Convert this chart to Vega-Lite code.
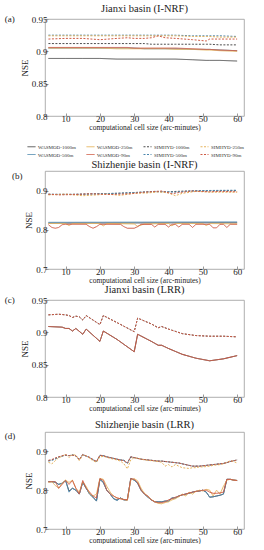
{
  "$schema": "https://vega.github.io/schema/vega-lite/v6.json",
  "padding": {"left": 4, "top": 3, "right": 0, "bottom": 0},
  "spacing": 15,
  "bounds": "flush",
  "datasets": {
    "pa": [
      {"x":5,"w1":0.889,"w2":0.905,"w3":0.905,"w4":0.906,"s1":0.912,"s2":0.925,"s3":0.924,"s4":0.919},
      {"x":10,"w1":0.889,"w2":0.905,"w3":0.905,"w4":0.906,"s1":0.912,"s2":0.925,"s3":0.924,"s4":0.920},
      {"x":15,"w1":0.889,"w2":0.905,"w3":0.905,"w4":0.906,"s1":0.912,"s2":0.925,"s3":0.924,"s4":0.920},
      {"x":20,"w1":0.889,"w2":0.905,"w3":0.905,"w4":0.906,"s1":0.912,"s2":0.925,"s3":0.924,"s4":0.918},
      {"x":25,"w1":0.888,"w2":0.905,"w3":0.904,"w4":0.906,"s1":0.912,"s2":0.925,"s3":0.924,"s4":0.920},
      {"x":28,"w1":0.888,"w2":0.905,"w3":0.904,"w4":0.906,"s1":0.912,"s2":0.925,"s3":0.924,"s4":0.921},
      {"x":30,"w1":0.888,"w2":0.905,"w3":0.904,"w4":0.905,"s1":0.912,"s2":0.925,"s3":0.924,"s4":0.920},
      {"x":33,"w1":0.888,"w2":0.904,"w3":0.904,"w4":0.905,"s1":0.912,"s2":0.925,"s3":0.924,"s4":0.920},
      {"x":35,"w1":0.888,"w2":0.904,"w3":0.904,"w4":0.905,"s1":0.911,"s2":0.925,"s3":0.924,"s4":0.921},
      {"x":37,"w1":0.888,"w2":0.904,"w3":0.904,"w4":0.905,"s1":0.911,"s2":0.925,"s3":0.924,"s4":0.924},
      {"x":39,"w1":0.888,"w2":0.904,"w3":0.904,"w4":0.905,"s1":0.911,"s2":0.925,"s3":0.924,"s4":0.921},
      {"x":42,"w1":0.888,"w2":0.904,"w3":0.903,"w4":0.905,"s1":0.911,"s2":0.925,"s3":0.924,"s4":0.920},
      {"x":47,"w1":0.887,"w2":0.903,"w3":0.903,"w4":0.904,"s1":0.911,"s2":0.924,"s3":0.923,"s4":0.918},
      {"x":51,"w1":0.886,"w2":0.903,"w3":0.902,"w4":0.903,"s1":0.911,"s2":0.924,"s3":0.923,"s4":0.916},
      {"x":52,"w1":0.886,"w2":0.903,"w3":0.902,"w4":0.903,"s1":0.911,"s2":0.924,"s3":0.923,"s4":0.919},
      {"x":55,"w1":0.886,"w2":0.902,"w3":0.901,"w4":0.902,"s1":0.910,"s2":0.924,"s3":0.922,"s4":0.919},
      {"x":60,"w1":0.885,"w2":0.901,"w3":0.900,"w4":0.901,"s1":0.910,"s2":0.923,"s3":0.922,"s4":0.919}
    ],
    "pb": [
      {"x":5,"w1":0.817,"w2":0.819,"w3":0.816,"w4":0.813,"s1":0.890,"s2":0.891,"s3":0.889,"s4":0.891},
      {"x":6,"w4":0.806},
      {"x":7,"w4":0.804},
      {"x":8,"w4":0.806,"s4":0.889},
      {"x":9,"w4":0.813},
      {"x":10,"w3":0.816,"w4":0.814,"s3":0.891},
      {"x":11,"w3":0.811},
      {"x":12,"w3":0.816,"s2":0.890},
      {"x":13,"s4":0.890},
      {"x":15,"s1":0.891,"s3":0.887},
      {"x":16,"w4":0.814},
      {"x":17,"w4":0.808,"s4":0.892},
      {"x":18,"w4":0.804},
      {"x":19,"w4":0.808,"s3":0.889},
      {"x":20,"w3":0.816,"w4":0.814,"s2":0.892},
      {"x":21,"w3":0.810},
      {"x":22,"w3":0.816,"s3":0.891},
      {"x":23,"s4":0.890},
      {"x":25,"s1":0.893},
      {"x":26,"w4":0.814,"s3":0.888},
      {"x":27,"w4":0.808},
      {"x":28,"w4":0.804,"s2":0.894},
      {"x":29,"s4":0.892},
      {"x":30,"w3":0.815,"w4":0.804,"s3":0.893},
      {"x":31,"w3":0.809,"w4":0.808},
      {"x":32,"w4":0.814},
      {"x":33,"w3":0.815,"s4":0.896},
      {"x":34,"s3":0.894},
      {"x":35,"w4":0.814,"s1":0.897},
      {"x":36,"w4":0.807,"s2":0.898},
      {"x":37,"w4":0.814,"s3":0.897},
      {"x":38,"s4":0.899},
      {"x":39,"w4":0.814},
      {"x":40,"w3":0.816,"w4":0.807,"s1":0.897,"s3":0.894},
      {"x":41,"w3":0.810,"w4":0.814,"s4":0.892},
      {"x":42,"w3":0.816,"w4":0.814,"s2":0.896,"s3":0.887},
      {"x":43,"w4":0.807,"s4":0.895},
      {"x":44,"w4":0.814,"s3":0.893},
      {"x":45,"s1":0.899},
      {"x":46,"w4":0.814},
      {"x":47,"w4":0.806,"s4":0.899},
      {"x":48,"w4":0.814,"s2":0.900,"s3":0.898},
      {"x":50,"w3":0.816},
      {"x":51,"w3":0.811},
      {"x":52,"w3":0.816,"w4":0.814,"s3":0.896,"s4":0.897},
      {"x":53,"w4":0.805},
      {"x":54,"w4":0.805},
      {"x":55,"w4":0.814,"s4":0.898},
      {"x":56,"w4":0.814},
      {"x":57,"w4":0.806},
      {"x":58,"w4":0.814},
      {"x":60,"w1":0.818,"w2":0.820,"w3":0.815,"w4":0.814,"s1":0.900,"s2":0.901,"s3":0.896,"s4":0.897}
    ],
    "pc": [
      {"x":5,"w1":0.909,"w4":0.909,"s1":0.927,"s4":0.927},
      {"x":8,"s1":0.928,"s4":0.928},
      {"x":9,"w1":0.908,"w4":0.908},
      {"x":10,"w1":0.906,"w4":0.906,"s1":0.927,"s4":0.927},
      {"x":11,"w1":0.906,"w4":0.906,"s1":0.926,"s4":0.926},
      {"x":12,"w1":0.902,"w4":0.902,"s1":0.923,"s4":0.923},
      {"x":13,"w1":0.906,"w4":0.906,"s1":0.925,"s4":0.925},
      {"x":14,"s1":0.924,"s4":0.924},
      {"x":15,"w1":0.897,"w4":0.897,"s1":0.919,"s4":0.919},
      {"x":16,"w1":0.905,"w4":0.905,"s1":0.926,"s4":0.926},
      {"x":20,"w1":0.886,"w4":0.886,"s1":0.912,"s4":0.912},
      {"x":21,"w1":0.902,"w4":0.902,"s1":0.926,"s4":0.926},
      {"x":25,"w1":0.889,"w4":0.889,"s1":0.915,"s4":0.915},
      {"x":30,"w1":0.870,"w4":0.870,"s1":0.901,"s4":0.901},
      {"x":31,"w1":0.897,"w4":0.897,"s1":0.922,"s4":0.922},
      {"x":35,"w1":0.886,"w4":0.886,"s1":0.913,"s4":0.913},
      {"x":37,"w1":0.880,"w4":0.880,"s1":0.907,"s4":0.907},
      {"x":38,"w1":0.880,"w4":0.880,"s1":0.909,"s4":0.909},
      {"x":40,"w1":0.875,"w4":0.875,"s1":0.905,"s4":0.905},
      {"x":44,"w1":0.866,"w4":0.866,"s1":0.898,"s4":0.898},
      {"x":48,"w1":0.860,"w4":0.860,"s1":0.895,"s4":0.895},
      {"x":52,"w1":0.856,"w4":0.856,"s1":0.894,"s4":0.894},
      {"x":56,"w1":0.859,"w4":0.859,"s1":0.894,"s4":0.894},
      {"x":60,"w1":0.864,"w4":0.864,"s1":0.893,"s4":0.893}
    ],
    "pd": [
      {"x":5,"w1":0.822,"w2":0.822,"w3":0.820,"w4":0.822,"s1":0.876,"s2":0.875,"s3":0.872,"s4":0.877},
      {"x":6,"w1":0.822,"w2":0.822,"w3":0.822,"w4":0.822,"s1":0.878,"s2":0.877,"s3":0.868,"s4":0.879},
      {"x":7,"w1":0.821,"w2":0.820,"w3":0.812,"w4":0.822,"s1":0.882,"s2":0.880,"s3":0.876,"s4":0.883},
      {"x":8,"w1":0.815,"w2":0.815,"w3":0.805,"w4":0.805,"s1":0.886,"s2":0.885,"s3":0.884,"s4":0.886},
      {"x":9,"w1":0.818,"w2":0.818,"w3":0.818,"w4":0.815,"s1":0.888,"s2":0.888,"s3":0.887,"s4":0.889},
      {"x":10,"w1":0.825,"w2":0.825,"w3":0.826,"w4":0.825,"s1":0.890,"s2":0.890,"s3":0.893,"s4":0.891},
      {"x":11,"w1":0.798,"w2":0.795,"w3":0.820,"w4":0.815,"s1":0.889,"s2":0.889,"s3":0.884,"s4":0.889},
      {"x":12,"w1":0.805,"w2":0.805,"w3":0.826,"w4":0.825,"s1":0.891,"s2":0.891,"s3":0.892,"s4":0.890},
      {"x":13,"w1":0.800,"w2":0.800,"w3":0.805,"w4":0.805,"s1":0.888,"s2":0.889,"s3":0.890,"s4":0.889},
      {"x":14,"w1":0.790,"w2":0.790,"w3":0.795,"w4":0.790,"s1":0.878,"s2":0.880,"s3":0.876,"s4":0.879},
      {"x":15,"w1":0.820,"w2":0.820,"w3":0.822,"w4":0.825,"s1":0.892,"s2":0.891,"s3":0.890,"s4":0.892},
      {"x":16,"w1":0.805,"w2":0.805,"w3":0.810,"w4":0.805,"s1":0.888,"s2":0.888,"s3":0.889,"s4":0.888},
      {"x":17,"w1":0.790,"w2":0.790,"w3":0.792,"w4":0.795,"s1":0.884,"s2":0.884,"s3":0.882,"s4":0.885},
      {"x":18,"w1":0.782,"w2":0.782,"w3":0.785,"w4":0.785,"s1":0.878,"s2":0.879,"s3":0.876,"s4":0.879},
      {"x":19,"w1":0.772,"w2":0.772,"w3":0.790,"w4":0.780,"s1":0.873,"s2":0.874,"s3":0.872,"s4":0.874},
      {"x":20,"w1":0.828,"w2":0.828,"w3":0.830,"w4":0.830,"s1":0.890,"s2":0.889,"s3":0.886,"s4":0.890},
      {"x":21,"w1":0.820,"w2":0.820,"w3":0.828,"w4":0.825,"s1":0.889,"s2":0.889,"s3":0.887,"s4":0.889},
      {"x":22,"w1":0.800,"w2":0.800,"w3":0.810,"w4":0.800,"s1":0.886,"s2":0.886,"s3":0.885,"s4":0.886},
      {"x":23,"w1":0.790,"w2":0.790,"w3":0.795,"w4":0.790,"s1":0.884,"s2":0.884,"s3":0.882,"s4":0.884},
      {"x":24,"w1":0.778,"w2":0.778,"w3":0.785,"w4":0.785,"s1":0.882,"s2":0.882,"s3":0.880,"s4":0.882},
      {"x":25,"w1":0.775,"w2":0.773,"w3":0.780,"w4":0.780,"s1":0.880,"s2":0.880,"s3":0.878,"s4":0.880},
      {"x":26,"w1":0.780,"w2":0.780,"w3":0.778,"w4":0.778,"s1":0.878,"s2":0.878,"s3":0.875,"s4":0.878},
      {"x":27,"w1":0.775,"w2":0.775,"w3":0.776,"w4":0.776,"s1":0.877,"s2":0.877,"s3":0.868,"s4":0.876},
      {"x":28,"w1":0.775,"w2":0.775,"w3":0.774,"w4":0.775,"s1":0.870,"s2":0.868,"s3":0.855,"s4":0.870},
      {"x":29,"w1":0.830,"w2":0.830,"w3":0.826,"w4":0.830,"s1":0.886,"s2":0.886,"s3":0.878,"s4":0.886},
      {"x":30,"w1":0.826,"w2":0.826,"w3":0.830,"w4":0.828,"s1":0.884,"s2":0.884,"s3":0.884,"s4":0.884},
      {"x":31,"w1":0.818,"w2":0.818,"w3":0.824,"w4":0.820,"s1":0.882,"s2":0.882,"s3":0.882,"s4":0.882},
      {"x":32,"w1":0.800,"w2":0.800,"w3":0.805,"w4":0.800,"s1":0.880,"s2":0.880,"s3":0.880,"s4":0.880},
      {"x":33,"w1":0.790,"w2":0.790,"w3":0.792,"w4":0.790,"s1":0.879,"s2":0.879,"s3":0.878,"s4":0.879},
      {"x":34,"w1":0.782,"w2":0.782,"w3":0.784,"w4":0.785,"s1":0.878,"s2":0.878,"s3":0.877,"s4":0.878},
      {"x":35,"w1":0.775,"w2":0.775,"w3":0.776,"w4":0.775,"s1":0.877,"s2":0.877,"s3":0.876,"s4":0.877},
      {"x":36,"w1":0.770,"w2":0.770,"w3":0.770,"w4":0.770,"s1":0.876,"s2":0.876,"s3":0.875,"s4":0.876},
      {"x":37,"w1":0.770,"w2":0.770,"w3":0.766,"w4":0.768,"s1":0.875,"s2":0.875,"s3":0.874,"s4":0.875},
      {"x":38,"w1":0.770,"w2":0.770,"w3":0.765,"w4":0.768,"s1":0.875,"s2":0.875,"s3":0.872,"s4":0.875},
      {"x":39,"w1":0.772,"w2":0.772,"w3":0.768,"w4":0.770,"s1":0.874,"s2":0.874,"s3":0.862,"s4":0.874},
      {"x":40,"w1":0.772,"w2":0.772,"w3":0.770,"w4":0.775,"s1":0.873,"s2":0.873,"s3":0.866,"s4":0.873},
      {"x":41,"w1":0.780,"w2":0.780,"w3":0.775,"w4":0.778,"s1":0.872,"s2":0.872,"s3":0.860,"s4":0.872},
      {"x":42,"w1":0.780,"w2":0.780,"w3":0.778,"w4":0.782,"s1":0.871,"s2":0.871,"s3":0.866,"s4":0.871},
      {"x":43,"w1":0.785,"w2":0.785,"w3":0.783,"w4":0.785,"s1":0.870,"s2":0.870,"s3":0.862,"s4":0.870},
      {"x":44,"w1":0.788,"w2":0.788,"w3":0.790,"w4":0.788,"s1":0.868,"s2":0.868,"s3":0.858,"s4":0.868},
      {"x":45,"w1":0.790,"w2":0.790,"w3":0.785,"w4":0.790,"s1":0.866,"s2":0.866,"s3":0.857,"s4":0.866},
      {"x":46,"w1":0.792,"w2":0.792,"w3":0.795,"w4":0.793,"s1":0.864,"s2":0.864,"s3":0.856,"s4":0.864},
      {"x":47,"w1":0.795,"w2":0.795,"w3":0.790,"w4":0.795,"s1":0.862,"s2":0.862,"s3":0.858,"s4":0.862},
      {"x":48,"w1":0.797,"w2":0.797,"w3":0.797,"w4":0.797,"s1":0.862,"s2":0.862,"s3":0.858,"s4":0.862},
      {"x":49,"w1":0.798,"w2":0.798,"w3":0.800,"w4":0.798,"s1":0.862,"s2":0.862,"s3":0.860,"s4":0.862},
      {"x":50,"w1":0.800,"w2":0.800,"w3":0.798,"w4":0.800,"s1":0.863,"s2":0.863,"s3":0.860,"s4":0.863},
      {"x":51,"w1":0.795,"w2":0.795,"w3":0.802,"w4":0.800,"s1":0.864,"s2":0.864,"s3":0.861,"s4":0.864},
      {"x":52,"w1":0.782,"w2":0.782,"w3":0.800,"w4":0.795,"s1":0.865,"s2":0.865,"s3":0.862,"s4":0.865},
      {"x":53,"w1":0.783,"w2":0.783,"w3":0.785,"w4":0.792,"s1":0.866,"s2":0.866,"s3":0.864,"s4":0.866},
      {"x":54,"w1":0.785,"w2":0.785,"w3":0.800,"w4":0.792,"s1":0.867,"s2":0.867,"s3":0.865,"s4":0.867},
      {"x":55,"w1":0.787,"w2":0.787,"w3":0.790,"w4":0.793,"s1":0.868,"s2":0.868,"s3":0.866,"s4":0.868},
      {"x":56,"w1":0.790,"w2":0.790,"w3":0.810,"w4":0.795,"s1":0.869,"s2":0.869,"s3":0.868,"s4":0.869},
      {"x":57,"w1":0.828,"w2":0.828,"w3":0.826,"w4":0.828,"s1":0.871,"s2":0.871,"s3":0.872,"s4":0.871},
      {"x":58,"w1":0.828,"w2":0.828,"w3":0.828,"w4":0.828,"s1":0.874,"s2":0.874,"s3":0.876,"s4":0.874},
      {"x":59,"w1":0.826,"w2":0.826,"w3":0.826,"w4":0.826,"s1":0.876,"s2":0.876,"s3":0.874,"s4":0.876},
      {"x":60,"w1":0.825,"w2":0.825,"w3":0.825,"w4":0.825,"s1":0.878,"s2":0.878,"s3":0.870,"s4":0.878}
    ]
  },
  "resolve": {
    "scale": {"x": "independent", "y": "independent", "color": "independent", "strokeDash": "independent"},
    "legend": {"color": "independent", "strokeDash": "independent"}
  },
  "vconcat": [
    {
      "width": 199, "height": 97,
      "title": {"text": "Jianxi basin (I-NRF)"},
      "layer": [
        {
          "data": {"name": "pa"},
          "transform": [{"fold": ["w1","w2","w3","w4","s1","s2","s3","s4"], "as": ["s","y"]}, {"filter": "isValid(datum.y)"}],
          "mark": {"type": "line", "strokeWidth": 1, "clip": true},
          "encoding": {
            "x": {"field": "x", "type": "quantitative", "scale": {"domain": [4, 62], "nice": false}, "axis": {"title": "computational cell size (arc-minutes)", "values": [10,20,30,40,50,60], "labelOverlap": false}},
            "y": {"field": "y", "type": "quantitative", "scale": {"domain": [0.8, 0.95], "nice": false, "zero": false}, "axis": {"title": "NSE", "values": [0.8,0.85,0.9,0.95], "format": "~g", "labelOverlap": false}},
            "color": {"field": "s", "type": "nominal", "scale": {"domain": ["w1","w2","w3","w4","s1","s2","s3","s4"], "range": ["#4d4d4d","#4a86ad","#e6b35c","#cf5b45","#4d4d4d","#4a86ad","#e6b35c","#cf5b45"]},
              "legend": {"title": null, "orient": "none", "legendX": -18, "legendY": 123, "columns": 4, "labelExpr": "(substring(datum.label,0,1)=='w' ? 'WASMOD-' : 'SIMHYD-') + ['1000','500','250','90'][toNumber(substring(datum.label,1,2))-1] + 'm'"}},
            "strokeDash": {"field": "s", "type": "nominal", "scale": {"domain": ["w1","w2","w3","w4","s1","s2","s3","s4"], "range": [[1,0],[1,0],[1,0],[1,0],[2,1.5],[2,1.5],[2,1.5],[2,1.5]]},
              "legend": {"title": null, "orient": "none", "legendX": -18, "legendY": 123, "columns": 4, "labelExpr": "(substring(datum.label,0,1)=='w' ? 'WASMOD-' : 'SIMHYD-') + ['1000','500','250','90'][toNumber(substring(datum.label,1,2))-1] + 'm'"}}
          }
        },
        {
          "data": {"values": [{"x": -7.7, "y": 0.95, "t": "(a)"}]},
          "mark": {"type": "text", "align": "left", "baseline": "middle", "fontSize": 9},
          "encoding": {
            "x": {"field": "x", "type": "quantitative", "axis": {"title": "computational cell size (arc-minutes)", "values": [10,20,30,40,50,60], "labelOverlap": false}},
            "y": {"field": "y", "type": "quantitative", "axis": {"title": "NSE", "values": [0.8,0.85,0.9,0.95], "format": "~g", "labelOverlap": false}},
            "text": {"field": "t"}
          }
        }
      ]
    },
    {
      "width": 199, "height": 25, "view": {"stroke": null},
      "data": {"values": [{}]},
      "mark": {"type": "text"},
      "encoding": {"text": {"value": ""}}
    },
    {
      "width": 199, "height": 98,
      "title": {"text": "Shizhenjie basin (I-NRF)"},
      "layer": [
        {
          "data": {"name": "pb"},
          "transform": [{"fold": ["w1","w2","w3","w4","s1","s2","s3","s4"], "as": ["s","y"]}, {"filter": "isValid(datum.y)"}],
          "mark": {"type": "line", "strokeWidth": 1, "clip": true},
          "encoding": {
            "x": {"field": "x", "type": "quantitative", "scale": {"domain": [4, 62], "nice": false}, "axis": {"title": "computational cell size (arc-minutes)", "values": [10,20,30,40,50,60], "labelOverlap": false}},
            "y": {"field": "y", "type": "quantitative", "scale": {"domain": [0.7, 0.95], "nice": false, "zero": false}, "axis": {"title": "NSE", "values": [0.7,0.8,0.9], "format": "~g", "labelOverlap": false}},
            "color": {"field": "s", "type": "nominal", "scale": {"domain": ["w1","w2","w3","w4","s1","s2","s3","s4"], "range": ["#4d4d4d","#4a86ad","#e6b35c","#cf5b45","#4d4d4d","#4a86ad","#e6b35c","#cf5b45"]}, "legend": null},
            "strokeDash": {"field": "s", "type": "nominal", "scale": {"domain": ["w1","w2","w3","w4","s1","s2","s3","s4"], "range": [[1,0],[1,0],[1,0],[1,0],[2,1.5],[2,1.5],[2,1.5],[2,1.5]]}, "legend": null}
          }
        },
        {
          "data": {"values": [{"x": -5.6, "y": 0.938, "t": "(b)"}]},
          "mark": {"type": "text", "align": "left", "baseline": "middle", "fontSize": 9},
          "encoding": {
            "x": {"field": "x", "type": "quantitative", "axis": {"title": "computational cell size (arc-minutes)", "values": [10,20,30,40,50,60], "labelOverlap": false}},
            "y": {"field": "y", "type": "quantitative", "axis": {"title": "NSE", "values": [0.7,0.8,0.9], "format": "~g", "labelOverlap": false}},
            "text": {"field": "t"}
          }
        }
      ]
    },
    {
      "width": 199, "height": 1, "view": {"stroke": null},
      "data": {"values": [{}]},
      "mark": {"type": "text"},
      "encoding": {"text": {"value": ""}}
    },
    {
      "width": 199, "height": 97,
      "title": {"text": "Jianxi basin (LRR)"},
      "layer": [
        {
          "data": {"name": "pc"},
          "transform": [{"fold": ["w1","w2","w3","w4","s1","s2","s3","s4"], "as": ["s","y"]}, {"filter": "isValid(datum.y)"}],
          "mark": {"type": "line", "strokeWidth": 1, "clip": true},
          "encoding": {
            "x": {"field": "x", "type": "quantitative", "scale": {"domain": [4, 62], "nice": false}, "axis": {"title": "computational cell size (arc-minutes)", "values": [10,20,30,40,50,60], "labelOverlap": false}},
            "y": {"field": "y", "type": "quantitative", "scale": {"domain": [0.8, 0.95], "nice": false, "zero": false}, "axis": {"title": "NSE", "values": [0.8,0.85,0.9,0.95], "format": "~g", "labelOverlap": false}},
            "color": {"field": "s", "type": "nominal", "scale": {"domain": ["w1","w2","w3","w4","s1","s2","s3","s4"], "range": ["#4d4d4d","#4a86ad","#e6b35c","#cf5b45","#4d4d4d","#4a86ad","#e6b35c","#cf5b45"]}, "legend": null},
            "strokeDash": {"field": "s", "type": "nominal", "scale": {"domain": ["w1","w2","w3","w4","s1","s2","s3","s4"], "range": [[1,0],[1,0],[1,0],[1,0],[2,1.5],[2,1.5],[2,1.5],[2,1.5]]}, "legend": null}
          }
        },
        {
          "data": {"values": [{"x": -7.7, "y": 0.95, "t": "(c)"}]},
          "mark": {"type": "text", "align": "left", "baseline": "middle", "fontSize": 9},
          "encoding": {
            "x": {"field": "x", "type": "quantitative", "axis": {"title": "computational cell size (arc-minutes)", "values": [10,20,30,40,50,60], "labelOverlap": false}},
            "y": {"field": "y", "type": "quantitative", "axis": {"title": "NSE", "values": [0.8,0.85,0.9,0.95], "format": "~g", "labelOverlap": false}},
            "text": {"field": "t"}
          }
        }
      ]
    },
    {
      "width": 199, "height": 5, "view": {"stroke": null},
      "data": {"values": [{}]},
      "mark": {"type": "text"},
      "encoding": {"text": {"value": ""}}
    },
    {
      "width": 199, "height": 97,
      "title": {"text": "Shizhenjie basin (LRR)"},
      "layer": [
        {
          "data": {"name": "pd"},
          "transform": [{"fold": ["w1","w2","w3","w4","s1","s2","s3","s4"], "as": ["s","y"]}, {"filter": "isValid(datum.y)"}],
          "mark": {"type": "line", "strokeWidth": 1, "clip": true},
          "encoding": {
            "x": {"field": "x", "type": "quantitative", "scale": {"domain": [4, 62], "nice": false}, "axis": {"title": "computational cell size (arc-minutes)", "values": [10,20,30,40,50,60], "labelOverlap": false}},
            "y": {"field": "y", "type": "quantitative", "scale": {"domain": [0.7, 0.95], "nice": false, "zero": false}, "axis": {"title": "NSE", "values": [0.7,0.8,0.9], "format": "~g", "labelOverlap": false}},
            "color": {"field": "s", "type": "nominal", "scale": {"domain": ["w1","w2","w3","w4","s1","s2","s3","s4"], "range": ["#4d4d4d","#4a86ad","#e6b35c","#cf5b45","#4d4d4d","#4a86ad","#e6b35c","#cf5b45"]}, "legend": null},
            "strokeDash": {"field": "s", "type": "nominal", "scale": {"domain": ["w1","w2","w3","w4","s1","s2","s3","s4"], "range": [[1,0],[1,0],[1,0],[1,0],[2,1.5],[2,1.5],[2,1.5],[2,1.5]]}, "legend": null}
          }
        },
        {
          "data": {"values": [{"x": -7.7, "y": 0.94, "t": "(d)"}]},
          "mark": {"type": "text", "align": "left", "baseline": "middle", "fontSize": 9},
          "encoding": {
            "x": {"field": "x", "type": "quantitative", "axis": {"title": "computational cell size (arc-minutes)", "values": [10,20,30,40,50,60], "labelOverlap": false}},
            "y": {"field": "y", "type": "quantitative", "axis": {"title": "NSE", "values": [0.7,0.8,0.9], "format": "~g", "labelOverlap": false}},
            "text": {"field": "t"}
          }
        }
      ]
    }
  ],
  "config": {
    "font": "Liberation Serif",
    "view": {"stroke": "#9a9a9a", "strokeWidth": 0.8},
    "text": {"font": "Liberation Serif", "color": "#222"},
    "axis": {"grid": false, "domain": false, "tickSize": -3, "tickColor": "#999", "labelOverlap": false, "labelFont": "Liberation Serif", "labelFontSize": 9, "labelColor": "#222", "labelPadding": 1, "titleFont": "Liberation Serif", "titleFontWeight": "normal", "titleColor": "#222"},
    "axisX": {"titleFontSize": 7.5, "titlePadding": 0},
    "axisY": {"titleFontSize": 9, "titlePadding": 2},
    "title": {"font": "Liberation Serif", "fontSize": 10.5, "fontWeight": "normal", "color": "#222", "offset": 1},
    "legend": {"labelFont": "Liberation Serif", "labelFontSize": 5, "labelColor": "#333", "symbolType": "stroke", "symbolSize": 64, "symbolStrokeWidth": 1, "columnPadding": 8, "rowPadding": -2, "labelOffset": 2}
  }
}
